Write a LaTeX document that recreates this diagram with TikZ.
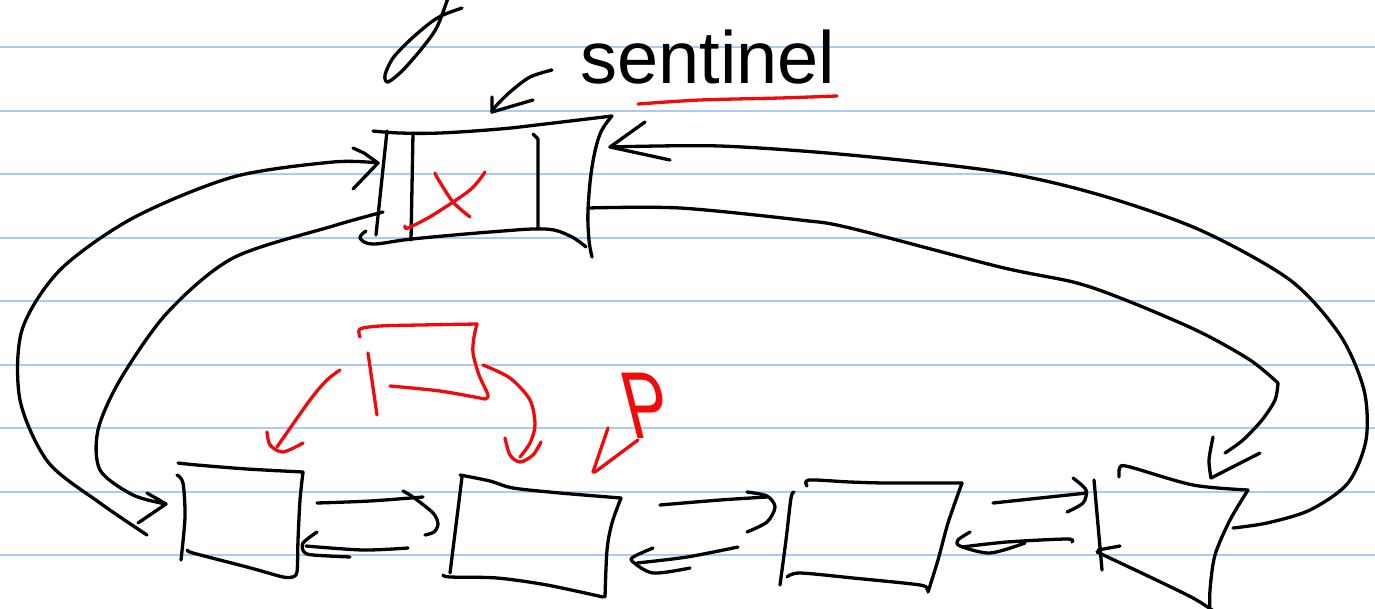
\documentclass[tikz,border=0pt]{standalone}
\usepackage{fontspec}
\setmainfont{Liberation Sans}
\definecolor{redink}{RGB}{240,10,10}
\definecolor{paperblue}{RGB}{168,204,245}
\begin{document}
\begin{tikzpicture}[x=1pt,y=-1pt,
  ink/.style={line width=3.3pt,line cap=round,line join=round,black},
  rink/.style={line width=3.3pt,line cap=round,line join=round,redink},
  rule/.style={line width=2pt,paperblue}]
\useasboundingbox (0,0) rectangle (1375,608);
\clip (0,0) rectangle (1375,608);
\fill[white] (0,0) rectangle (1375,608);
\foreach \yy in {47,110.5,174,237.5,301,364.5,428,491.5,555}
  \draw[rule] (0,\yy) -- (1375,\yy);

% ---------- named anchor points of the nodes ----------
\coordinate (sL)  at (378,163);   % sentinel, left input
\coordinate (sLo) at (383,212);   % sentinel, left output
\coordinate (sR)  at (610,147);   % sentinel, right input
\coordinate (sRo) at (588,208);   % sentinel, right output
\coordinate (aL)  at (166,504);   % node A, left input
\coordinate (aLo) at (147,535);   % node A, left output
\coordinate (aRo) at (317,503);   % node A, right output
\coordinate (aR)  at (306,546);   % node A, right input
\coordinate (bL)  at (438,524);   % node B, left input
\coordinate (bLo) at (408,548);   % node B, left output
\coordinate (bRo) at (660,505);   % node B, right output
\coordinate (bR)  at (632,561);   % node B, right input
\coordinate (bT)  at (595,472);   % node B, top
\coordinate (cL)  at (775,507);   % node C, left input
\coordinate (cLo) at (738,547);   % node C, left output
\coordinate (cRo) at (993,503);   % node C, right output
\coordinate (cR)  at (960,546);   % node C, right input
\coordinate (dL)  at (1087,493);  % node D, left input
\coordinate (dLo) at (1072,542);  % node D, left output
\coordinate (dR)  at (1233,528);  % node D, right output
\coordinate (dT)  at (1211,478);  % node D, top input
\coordinate (label) at (552,70);  % sentinel label arrow tail
\coordinate (sT)  at (492,112);   % sentinel top

% ---------- stray stroke at the top ----------
\draw[ink] plot[smooth] coordinates {(448,-2) (437,27) (423,47) (403,70) (388,82) (385,75) (393,58) (410,40) (430,23) (443,15) (462,8)};

% ---------- label ----------
\node[anchor=base west,inner sep=0pt,font=\fontsize{74}{80}\selectfont] (lbl) at (580,83) {sentinel};
\draw[rink] plot[smooth] coordinates {(638,104) (700,100) (780,98) (837,96)};
\draw[ink] plot[smooth] coordinates {(label) (530,77) (510,92) (495,107) (sT)};
\draw[ink] (492,97) -- (sT) -- (533,100);

% ---------- sentinel node ----------
\draw[ink] plot[smooth,tension=0.6] coordinates {(373,131) (400,133) (440,133) (500,129) (545,124) (612,116)};
\draw[ink] plot[smooth,tension=0.6] coordinates {(612,116) (600,134) (592,167) (588,210) (589,240) (592,257)};
\draw[ink] plot[smooth,tension=0.6] coordinates {(366,231) (360,238) (373,244) (412,239) (490,232) (545,229) (570,236) (586,247)};
\draw[ink] (387,131) -- (376,235);
\draw[ink] (413,133) -- (411,240);
\draw[ink] (533,134) -- (538,139) -- (538,228);
\draw[rink] plot[smooth] coordinates {(435,173) (438,179) (453,202) (470,217)};
\draw[rink] plot[smooth] coordinates {(405,226) (408,228) (433,215) (470,190) (485,172)};

% ---------- node A ----------
\draw[ink] plot[smooth] coordinates {(178,463) (197,465) (247,469) (303,472)};
\draw[ink] plot[smooth] coordinates {(177,475) (183,483) (185,517) (181,560)};
\draw[ink] plot[smooth] coordinates {(303,472) (300,500) (298,540) (297,572) (292,577)};
\draw[ink] plot[smooth] coordinates {(188,550) (193,553) (247,567) (283,577) (292,577)};

% ---------- node B ----------
\draw[ink] plot[smooth] coordinates {(460,475) (490,481) (513,488) (560,493) (621,498)};
\draw[ink] (462,477) -- (450,573);
\draw[ink] plot[smooth] coordinates {(621,498) (612,523) (607,550) (605,597)};
\draw[ink] plot[smooth] coordinates {(443,575) (450,577) (497,578) (547,585) (603,597)};

% ---------- node C ----------
\draw[ink] plot[smooth] coordinates {(807,486) (809,480) (850,482) (887,483) (962,483)};
\draw[ink] plot[smooth] coordinates {(794,492) (791,498) (786,540) (780,585)};
\draw[ink] plot[smooth] coordinates {(962,483) (948,523) (938,560) (928,592)};
\draw[ink] plot[smooth] coordinates {(787,577) (800,573) (853,578) (920,585) (927,590)};

% ---------- node D ----------
\draw[ink] (1094,480) -- (1102,570);
\draw[ink] (1098,550) -- (1120,546);
\draw[ink] plot[smooth] coordinates {(1119,477) (1120,467) (1130,467) (1193,485) (1248,490)};
\draw[ink] plot[smooth] coordinates {(1248,490) (1230,520) (1215,555) (1210,590) (1210,615)};
\draw[ink] plot[smooth] coordinates {(1097,552) (1150,577) (1193,598) (1215,612)};

% ---------- long connectors ----------
% A -> sentinel (outer left)
\draw[ink] plot[smooth] coordinates {(aLo) (100,503) (48,462) (20,400) (22,330) (60,270) (133,218) (233,177) (333,162) (sL)};
\draw[ink] (353,148) -- (364,153) -- (sL) -- (353,189);
% sentinel -> A (inner left)
\draw[ink] plot[smooth] coordinates {(sLo) (333,226) (233,258) (167,313) (120,380) (98,430) (100,470) (133,495) (aL)};
\draw[ink] (147,493) -- (aL) -- (138,523);
% D -> sentinel (outer right)
\draw[ink] plot[smooth] coordinates {(dR) (1267,523) (1310,510) (1348,483) (1366,440) (1364,390) (1340,335) (1290,280) (1200,230) (1100,195) (1000,172) (850,155) (720,146) (sR)};
\draw[ink] (645,122) -- (sR) -- (670,160);
% sentinel -> D (inner right)
\draw[ink] plot[smooth] coordinates {(sRo) (680,208) (800,220) (850,228) (1000,267) (1077,283) (1133,303) (1200,332) (1250,360) (1278,383)};
\draw[ink] plot[smooth] coordinates {(1278,383) (1275,400) (1262,420) (1243,440) (1225,453)};
\draw[ink] plot[smooth] coordinates {(1213,437) (1209,460) (dT)};
\draw[ink] (dT) -- (1260,453);

% ---------- short connectors ----------
\draw[ink] plot[smooth] coordinates {(aRo) (370,501) (423,497)};
\draw[ink] plot[smooth] coordinates {(403,491) (413,497) (433,513) (bL) (434,532) (425,535)};
\draw[ink] plot[smooth] coordinates {(bLo) (363,550) (aR)};
\draw[ink] plot[smooth] coordinates {(317,532) (303,543) (304,552) (313,555) (350,557)};

\draw[ink] plot[smooth] coordinates {(bRo) (720,500) (767,497)};
\draw[ink] plot[smooth] coordinates {(747,492) (767,496) (cL) (767,522) (747,532)};
\draw[ink] plot[smooth] coordinates {(cLo) (687,557) (637,563)};
\draw[ink] plot[smooth] coordinates {(653,548) (635,556) (bR) (653,573) (690,568)};

\draw[ink] plot[smooth] coordinates {(cRo) (1040,498) (dL)};
\draw[ink] plot[smooth] coordinates {(1073,478) (1086,490) (1083,503) (1067,512)};
\draw[ink] plot[smooth] coordinates {(dLo) (1067,539) (1007,542) (962,547)};
\draw[ink] plot[smooth] coordinates {(970,532) (958,540) (cR) (990,553) (1025,543)};

% ---------- red sketch ----------
\draw[rink] plot[smooth] coordinates {(360,337) (360,329) (380,326) (420,325) (477,324)};
\draw[rink] plot[smooth] coordinates {(477,324) (474,337) (473,353) (479,375) (488,395) (485,399)};
\draw[rink] plot[smooth] coordinates {(485,399) (440,391) (390,386)};
\draw[rink] (368,353) -- (377,415);
% red arrows
\draw[rink] plot[smooth] coordinates {(340,370) (327,380) (310,400) (277,447)};
\draw[rink] plot[smooth] coordinates {(267,432) (270,445) (283,452) (303,443)};
\draw[rink] plot[smooth] coordinates {(483,365) (510,378) (530,400) (535,425) (530,443) (520,457)};
\draw[rink] plot[smooth] coordinates {(505,438) (510,455) (520,462) (533,455) (541,442)};
% P pointer
\node[anchor=base west,inner sep=0pt,text=redink,font=\fontsize{95}{95}\selectfont,xslant=-0.25,xscale=0.7] (p) at (632,438) {P};
\draw[rink] (638,440) -- (bT);
\draw[rink] (608,428) -- (593,472) -- (bT);
\end{tikzpicture}
\end{document}
